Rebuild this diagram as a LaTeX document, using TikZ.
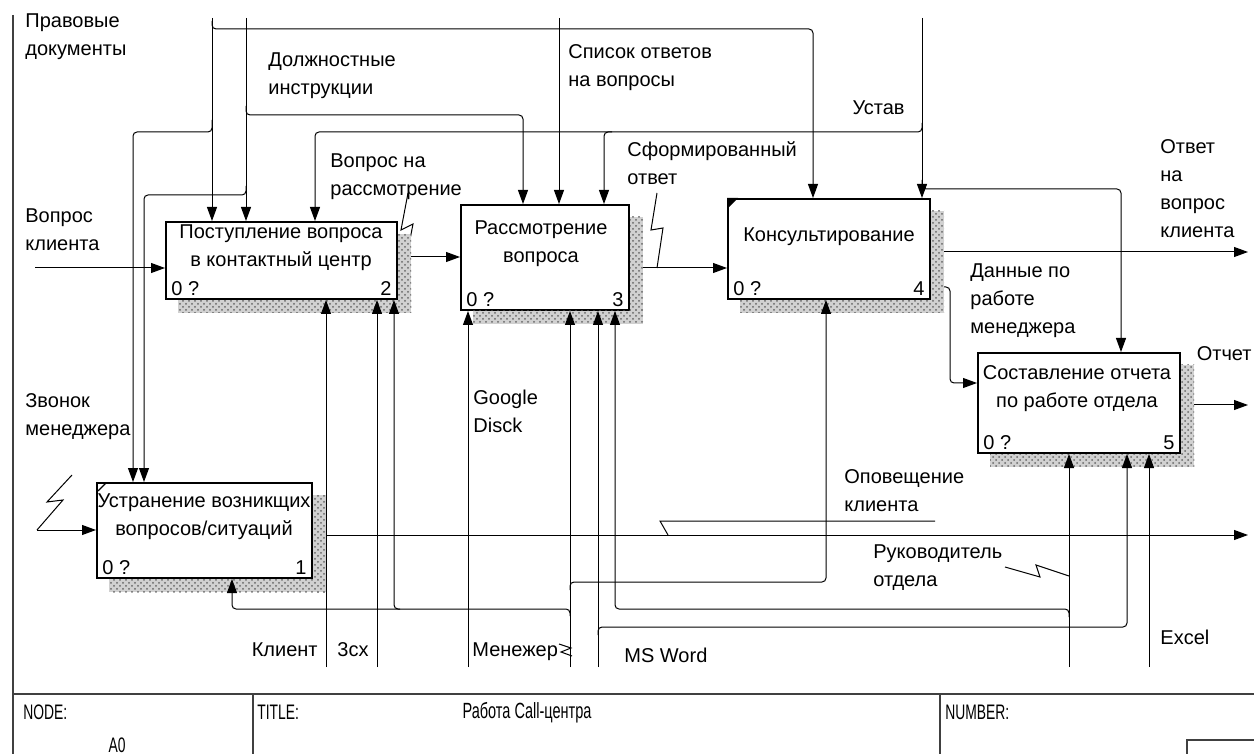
\documentclass[tikz,border=0pt]{standalone}
\usepackage{fontspec}
\setmainfont{Liberation Sans}
\newfontfamily\narrowfont[FakeStretch=0.66]{Liberation Sans}
\usetikzlibrary{arrows.meta,calc,patterns}

\begin{document}
\begin{tikzpicture}[x=0.5pt,y=-0.5pt,
    box/.style={draw,line width=1pt,fill=white,inner sep=0pt},
    arr/.style={line width=0.5pt,rounded corners=2pt,-{Triangle[length=7pt,width=5pt]}},
    sq/.style={line width=0.5pt},
    shd/.style={fill=black!18,postaction={pattern=crosshatch dots,pattern color=black!60}},
    lbl/.style={align=left,inner sep=0pt,font={\fontsize{10}{14}\selectfont}},
    num/.style={inner xsep=3pt,inner ysep=2pt,font={\fontsize{10}{14}\selectfont}},
    tbl/.style={inner sep=0pt,font={\narrowfont\fontsize{10.5}{12}\selectfont}}]
            \useasboundingbox (0,0) rectangle (1254,754);

            % Rahmen und Tabelle unten
            \draw[line width=0.6pt,black!75] (13,15) -- (13,754);
            \draw[line width=0.6pt,black!75] (13,694) -- (1254,694);
            \draw[line width=0.6pt,black!75] (253,694) -- (253,754);
            \draw[line width=0.6pt,black!75] (940,694) -- (940,754);
            \draw[line width=0.6pt,black!75] (1187,754) |- (1254,740);
            \node[tbl,anchor=west] (node) at (23,712) {NODE:};
            \node[tbl,anchor=west] (title) at (257,712) {TITLE:};
            \node[tbl,font={\narrowfont\fontsize{11}{12}\selectfont}] (name) at (527,713) {Работа Call-центра};
            \node[tbl,anchor=west] (number) at (945,712) {NUMBER:};
            \node[tbl] (a0) at (117,745) {A0};

            % Blöcke
            \node[box,minimum width=107.5pt,minimum height=47.5pt] (b1) at (204.5,530.5) {};
            \node[box,minimum width=115.5pt,minimum height=38.5pt] (b2) at (281.5,260.5) {};
            \node[box,minimum width=84pt,minimum height=52.5pt] (b3) at (545,257.5) {};
            \node[box,minimum width=101pt,minimum height=50pt] (b4) at (829,249) {};
            \node[box,minimum width=101pt,minimum height=50pt] (b5) at (1079,403) {};

            \node[lbl,align=center] (t1) at (204,517) {Устранение возникщих\\вопросов/ситуаций};
            \node[lbl,align=center] (t2) at (281,248) {Поступление вопроса\\в контактный центр};
            \node[lbl,align=center] (t3) at (541,244) {Рассмотрение\\вопроса};
            \node[lbl,align=center] (t4) at (829,237) {Консультирование};
            \node[lbl,align=center] (t5) at (1077,389) {Составление отчета\\по работе отдела};

            \node[num,anchor=south west] (n1) at (b1.south west) {0 ?};
            \node[num,anchor=south east] (k1) at (b1.south east) {1};
            \node[num,anchor=south west] (n2) at (b2.south west) {0 ?};
            \node[num,anchor=south east] (k2) at (b2.south east) {2};
            \node[num,anchor=south west] (n3) at (b3.south west) {0 ?};
            \node[num,anchor=south east] (k3) at (b3.south east) {3};
            \node[num,anchor=south west] (n4) at (b4.south west) {0 ?};
            \node[num,anchor=south east] (k4) at (b4.south east) {4};
            \node[num,anchor=south west] (n5) at (b5.south west) {0 ?};
            \node[num,anchor=south east] (k5) at (b5.south east) {5};

            \draw[line width=0.7pt] (b1.north west) ++(2,9) -- ++(8,-8);
            \fill (b4.north west) -- ++(11,0) -- ++(-11,11) -- cycle;

            % Beschriftungen
            \node[lbl,anchor=west] (l_pd) at (25,37) {Правовые\\документы};
            \node[lbl,anchor=west] (l_di) at (268,76) {Должностные\\инструкции};
            \node[lbl,anchor=west] (l_so) at (568,68) {Список ответов\\на вопросы};
            \node[lbl,anchor=east] (l_us) at (905,108) {Устав};
            \node[lbl,anchor=west] (l_vr) at (330,177) {Вопрос на\\рассмотрение};
            \node[lbl,anchor=west] (l_sf) at (627,163) {Сформированный\\ответ};
            \node[lbl,anchor=west] (l_ov) at (1160,189) {Ответ\\на\\вопрос\\клиента};
            \node[lbl,anchor=west] (l_vk) at (25,230) {Вопрос\\клиента};
            \node[lbl,anchor=west] (l_dm) at (970,301) {Данные по\\работе\\менеджера};
            \node[lbl,anchor=east] (l_ot) at (1252,354) {Отчет};
            \node[lbl,anchor=west] (l_zm) at (25,417) {Звонок\\менеджера};
            \node[lbl,anchor=west] (l_gd) at (473,411) {Google\\Disck};
            \node[lbl,anchor=west] (l_op) at (844,491) {Оповещение\\клиента};
            \node[lbl,anchor=west] (l_ru) at (873,568) {Руководитель\\отдела};
            \node[lbl,anchor=east] (l_kl) at (318,650) {Клиент};
            \node[lbl,anchor=west] (l_sx) at (337,650) {3сх};
            \node[lbl,anchor=west] (l_mn) at (472,652) {Менежер};
            \node[lbl,anchor=west] (l_mw) at (624,655) {MS Word};
            \node[lbl,anchor=west] (l_ex) at (1160,637) {Excel};

            % freie Enden
            \coordinate (pd) at (212,18);
            \coordinate (di) at (246,18);
            \coordinate (so) at (559,18);
            \coordinate (us) at (922,18);
            \coordinate (vk) at (35,268);
            \coordinate (zm) at (37,530);
            \coordinate (kl) at (326,667);
            \coordinate (sx) at (377,667);
            \coordinate (gd) at (468,667);
            \coordinate (mn) at (570,667);
            \coordinate (mw) at (598,667);
            \coordinate (ru) at (1069,667);
            \coordinate (ex) at (1149,667);
            \coordinate (out1) at (1248,535);
            \coordinate (out4) at (1248,252);
            \coordinate (out5) at (1248,405);

            % Steuerung
            \draw[arr] (pd) -- (pd |- b2.north);
            \draw[arr] (212,21) |- (813,29) -- (813,0 |- b4.north);
            \draw[arr] (212,120) |- (133,132) -- (133,0 |- b1.north);
            \draw[arr] (di) -- (di |- b2.north);
            \draw[arr] (246,106) |- (523,115) -- (523,0 |- b3.north);
            \draw[arr] (246,186) |- (144,195) -- (144,0 |- b1.north);
            \draw[arr] (so) -- (so |- b3.north);
            \draw[arr] (us) -- (us |- b4.north);
            \draw[arr] (922,123) |- (315,132) -- (315,0 |- b2.north);
            \draw[arr] (612,132) -| (604,0 |- b3.north);
            \draw[arr] (922,180) |- (1121,189) -- (1121,0 |- b5.north);

            % Eingaben und Ausgaben
            \draw[arr] (vk) -- (vk -| b2.west);
            \draw[arr] (b2.east |- 0,257) -- (b3.west |- 0,257);
            \draw[arr] (b3.east |- 0,268) -- (b4.west |- 0,268);
            \draw[arr] (zm) -- (zm -| b1.west);
            \draw[arr] (b1.east |- 0,535) -- (out1);
            \draw[arr] (b4.east |- 0,252) -- (out4);
            \draw[arr] (b4.east |- 0,287) -| (950,383) -- (b5.west |- 0,383);
            \draw[arr] (b5.east |- 0,405) -- (out5);

            % Zickzack
            \draw[sq] (72,475) -- (47,502) -- (63,500) -- (zm);
            \draw[sq] (408,193) -- (401,230) -- (413,224) -- (407,255);
            \draw[sq] (657,193) -- (651,230) -- (663,228) -- (657,268);
            \draw[sq] (1005,567) -- (1040,577) -- (1036,565) -- (1069,576);
            \draw[sq] (559,644) -- (571,648) -- (561,652) -- (572,656);
            \draw[sq] (935,521) -- (660,521) -- (668,535);

            % Schatten
            \foreach \b in {b1,b2,b3,b4,b5} {
                \fill[shd] ([yshift=-6.5pt]\b.north east) rectangle ([xshift=6.5pt,yshift=-6.5pt]\b.south east);
                \fill[shd] ([xshift=6.5pt]\b.south west) rectangle ([xshift=6.5pt,yshift=-6.5pt]\b.south east);
            }

            % Mechanismen
            \draw[arr] (kl) -- (kl |- b2.south);
            \draw[arr] (sx) -- (sx |- b2.south);
            \draw[arr] (gd) -- (gd |- b3.south);
            \draw[arr] (mn) -- (mn |- b3.south);
            \draw[arr] (570,616) |- (232,609) -- (232,0 |- b1.south);
            \draw[arr] (400,609) -| (394,0 |- b2.south);
            \draw[arr] (570,590) |- (826,582) -- (826,0 |- b4.south);
            \draw[arr] (mw) -- (mw |- b3.south);
            \draw[arr] (598,635) |- (1127,627) -- (1127,0 |- b5.south);
            \draw[arr] (ru) -- (ru |- b5.south);
            \draw[arr] (1069,617) |- (615,609) -- (615,0 |- b3.south);
            \draw[arr] (ex) -- (ex |- b5.south);
        \end{tikzpicture}
\end{document}
